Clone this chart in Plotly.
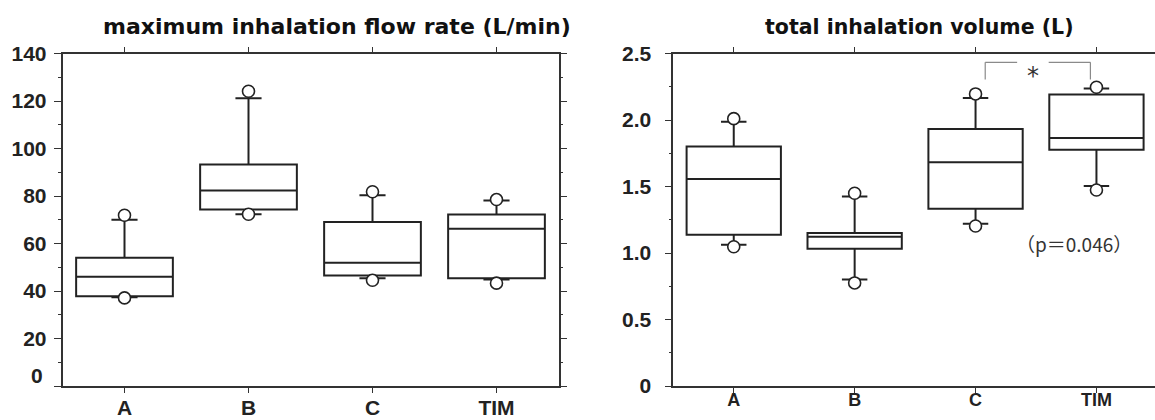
import plotly.graph_objects as go

# ---------------- data ----------------
categories = ["A", "B", "C", "TIM"]

# maximum inhalation flow rate (L/min)
flow_q1 = [37.8, 74.3, 46.5, 45.4]
flow_median = [46.0, 82.3, 51.9, 66.2]
flow_q3 = [54.0, 93.3, 69.1, 72.2]
flow_lower = [37.4, 72.3, 45.4, 44.8]
flow_upper = [70.0, 121.2, 80.3, 78.1]
flow_min_pt = [37.1, 72.3, 44.5, 43.3]
flow_max_pt = [71.9, 124.1, 81.8, 78.5]

# total inhalation volume (L)
vol_q1 = [1.137, 1.032, 1.333, 1.776]
vol_median = [1.557, 1.122, 1.683, 1.864]
vol_q3 = [1.801, 1.150, 1.932, 2.191]
vol_lower = [1.062, 0.801, 1.220, 1.504]
vol_upper = [1.987, 1.424, 2.166, 2.236]
vol_min_pt = [1.047, 0.775, 1.203, 1.474]
vol_max_pt = [2.010, 1.449, 2.196, 2.246]

flow_ticks = [0, 20, 40, 60, 80, 100, 120, 140]
vol_ticks = [0, 0.5, 1.0, 1.5, 2.0, 2.5]
vol_tick_text = ["0", "0.5", "1.0", "1.5", "2.0", "2.5"]

# significance bracket (C vs TIM)
bracket_x = [2.08, 2.95]
bracket_gap = [2.344, 2.605]
bracket_low = 2.304
bracket_high = 2.434
p_text = "（p＝0.046）"

# ---------------- figure ----------------
W, H = 1155, 420
INK = "#222222"
AX = "#333333"

fig = go.Figure()

def add_panel(q1, med, q3, lo, hi, pmin, pmax, xa, ya):
    fig.add_trace(go.Box(
        x=categories, q1=q1, median=med, q3=q3, lowerfence=lo, upperfence=hi,
        width=0.78, whiskerwidth=0.27, fillcolor="white",
        line=dict(color=INK, width=2), boxpoints=False,
        xaxis=xa, yaxis=ya, showlegend=False, hoverinfo="skip"))
    fig.add_trace(go.Scatter(
        x=categories + categories, y=pmax + pmin, mode="markers",
        marker=dict(symbol="circle", size=12, color="white",
                    line=dict(color=INK, width=1.6)),
        xaxis=xa, yaxis=ya, showlegend=False, hoverinfo="skip"))

add_panel(flow_q1, flow_median, flow_q3, flow_lower, flow_upper,
          flow_min_pt, flow_max_pt, "x", "y")
add_panel(vol_q1, vol_median, vol_q3, vol_lower, vol_upper,
          vol_min_pt, vol_max_pt, "x2", "y2")

def px_x(p):
    return p / W

def px_y(p):
    return (H - p) / H

y_dom = [px_y(386), px_y(53.5)]

common_x = dict(type="category", showline=True, linecolor=AX, linewidth=1.6,
                ticks="outside", ticklen=5, tickwidth=1.2, tickcolor=AX,
                mirror="ticks", showgrid=False, zeroline=False,
                automargin=False)
common_y = dict(showline=True, linecolor=AX, linewidth=1.6,
                ticks="outside", ticklen=7, tickwidth=1.2, tickcolor=AX,
                showgrid=False, zeroline=False, automargin=False,
                tickfont=dict(family="Liberation Sans", size=21, color=INK,
                              weight="bold"))

fig.update_layout(
    width=W, height=H, margin=dict(l=0, r=0, t=0, b=0, autoexpand=False),
    paper_bgcolor="white", plot_bgcolor="white",
    xaxis=dict(common_x, domain=[px_x(62.5), px_x(558.5)], range=[-0.5, 3.5],
               anchor="y", ticklabelstandoff=-3,
               tickfont=dict(family="Liberation Sans", size=21, color=INK,
                             weight="bold")),
    yaxis=dict(common_y, domain=y_dom, range=[0, 140], anchor="x",
               mirror="ticks", tickvals=flow_ticks,
               ticktext=[""] + [str(v) for v in flow_ticks[1:]],
               ticklabelstandoff=3,
               minor=dict(dtick=10, ticks="outside", ticklen=3,
                          tickwidth=1.2, tickcolor=AX, showgrid=False)),
    xaxis2=dict(common_x, domain=[px_x(673.3), 1.0],
                range=[-0.5, -0.5 + (1155 - 673.3) / 120.9],
                anchor="y2", ticklabelstandoff=-8,
                tickfont=dict(family="Liberation Sans", size=18, color=INK,
                              weight="bold")),
    yaxis2=dict(common_y, domain=y_dom, range=[0, 2.5], anchor="x2",
                mirror=False, tickvals=vol_ticks, ticktext=vol_tick_text,
                ticklabelstandoff=9,
                minor=dict(dtick=0.25, ticks="outside", ticklen=3,
                           tickwidth=1.2, tickcolor=AX, showgrid=False)),
)

# titles
fig.add_annotation(text="<b>maximum inhalation flow rate (L/min)</b>",
                   xref="paper", yref="paper", x=px_x(336.7), y=px_y(27),
                   xanchor="center", yanchor="middle", showarrow=False,
                   font=dict(family="DejaVu Sans", size=22, color="#111111"))
fig.add_annotation(text="<b>total inhalation volume (L)</b>",
                   xref="paper", yref="paper", x=px_x(919.5), y=px_y(27),
                   xanchor="center", yanchor="middle", showarrow=False,
                   font=dict(family="DejaVu Sans", size=20.5, color="#111111"))

# lifted "0" label of left chart
fig.add_annotation(text="0", xref="paper", yref="paper",
                   x=px_x(45), y=px_y(375), xanchor="right", yanchor="middle",
                   showarrow=False,
                   font=dict(family="Liberation Sans", size=21, color=INK,
                             weight="bold"))

# significance bracket
gcol = "#8a8a8a"
seg = [
    (bracket_x[0], bracket_low, bracket_x[0], bracket_high),
    (bracket_x[0], bracket_high, bracket_gap[0], bracket_high),
    (bracket_gap[1], bracket_high, bracket_x[1], bracket_high),
    (bracket_x[1], bracket_high, bracket_x[1], bracket_low),
]
for x0, y0, x1, y1 in seg:
    fig.add_shape(type="line", xref="x2", yref="y2", x0=x0, y0=y0, x1=x1,
                  y1=y1, line=dict(color=gcol, width=1.2))
fig.add_annotation(text="*", xref="x2", yref="y2",
                   x=(bracket_gap[0] + bracket_gap[1]) / 2, y=2.33,
                   showarrow=False,
                   font=dict(family="DejaVu Sans", size=24, color="#333333"))
fig.add_annotation(text=p_text, xref="x2", yref="y2", x=2.818, y=1.072,
                   showarrow=False,
                   font=dict(family="Noto Sans CJK JP", size=19,
                             color="#333333"))

fig.write_html(
    "out.html",
    config={"displayModeBar": False},
    post_script="document.body.style.margin='0';"
                "document.body.style.padding='0';",
)
